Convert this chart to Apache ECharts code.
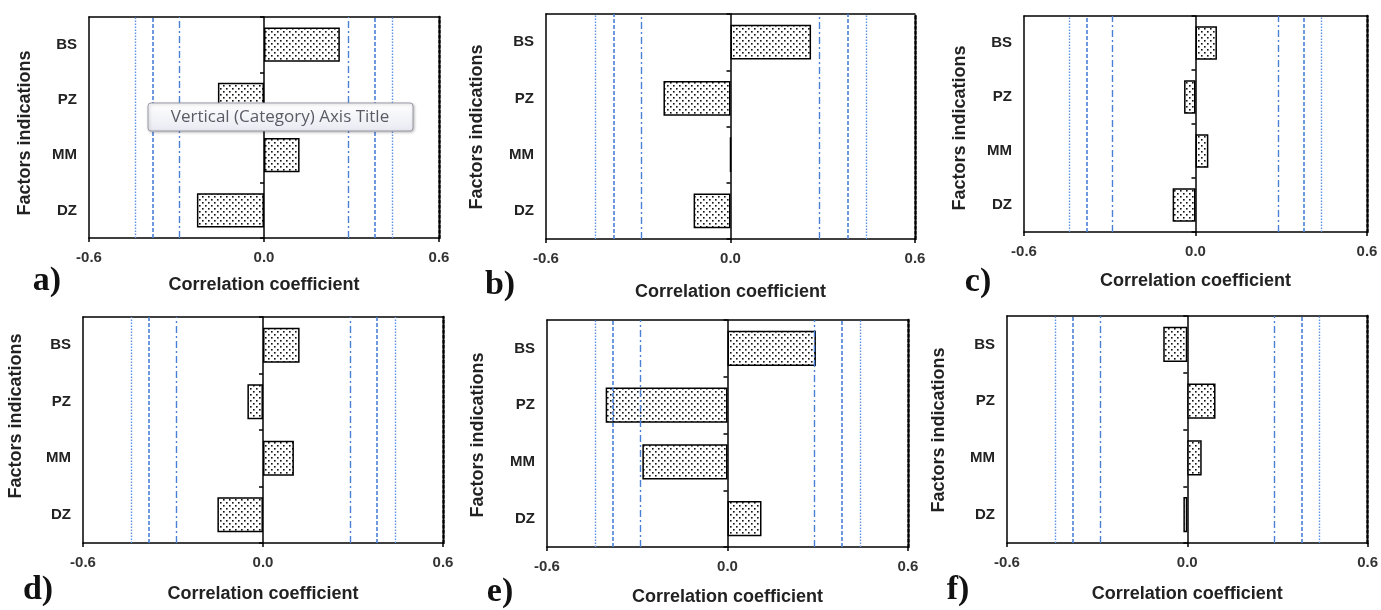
<!DOCTYPE html>
<html><head><meta charset="utf-8">
<script src="https://cdn.jsdelivr.net/npm/echarts@6/dist/echarts.min.js"></script>
<style>html,body{margin:0;padding:0;background:#fff}#c{width:1381px;height:610px}</style>
</head><body><div id="c"></div>
<script>
// ---- data ----
const categories = ['DZ', 'MM', 'PZ', 'BS'];
const panelLetters = ['a)', 'b)', 'c)', 'd)', 'e)', 'f)'];
const valuesA = [-0.23, 0.122, -0.158, 0.26];
const valuesB = [-0.12, 0.0, -0.218, 0.262];
const valuesC = [-0.08, 0.045, -0.04, 0.075];
const valuesD = [-0.152, 0.103, -0.052, 0.122];
const valuesE = [0.113, -0.283, -0.405, 0.294];
const valuesF = [-0.013, 0.048, 0.094, -0.08];
const xTickValues = [-0.6, 0.0, 0.6];
const criticalDotted = [-0.443, 0.443];
const criticalDashed = [-0.376, 0.376];
const criticalDashDot = [-0.294, 0.294];
const xTitle = 'Correlation coefficient';
const yTitle = 'Factors indications';
const hintText = 'Vertical (Category) Axis Title';

const allValues = [valuesA, valuesB, valuesC, valuesD, valuesE, valuesF];

// ---- layout (pixels) ----
const grids = [
  {left: 89, top: 17, width: 350, height: 221},
  {left: 546, top: 14, width: 369, height: 225},
  {left: 1024, top: 16, width: 343, height: 216},
  {left: 83, top: 317, width: 360, height: 226},
  {left: 547, top: 320, width: 361, height: 227},
  {left: 1007, top: 316, width: 361, height: 227}
];
const xNameGap = [38, 44, 40, 42, 41, 42];
const yTitlePos = [[25, 133], [477, 127], [960, 128], [16, 416], [478, 435], [939, 430]];
const letterPos = [[47, 281], [500, 285], [978, 282], [38, 590], [500, 592], [958, 590]];

const FONT = '"Liberation Sans", Arial, sans-serif';
const TXT = '#222';
const BLUE = '#4a80d6';
const BLUE_LIGHT = '#5f93e0';

function makePattern() {
  const c = document.createElement('canvas');
  c.width = 6; c.height = 6;
  const g = c.getContext('2d');
  g.fillStyle = '#fff'; g.fillRect(0, 0, 6, 6);
  g.fillStyle = '#111';
  g.fillRect(1, 1, 1.6, 1.6);
  g.fillRect(4, 4, 1.6, 1.6);
  return c;
}
const pattern = makePattern();

const xMin = xTickValues[0], xMax = xTickValues[xTickValues.length - 1];
const xInterval = xTickValues[1] - xTickValues[0];

const option = {
  backgroundColor: '#fff',
  animation: false,
  grid: [], xAxis: [], yAxis: [], series: [], graphic: []
};

grids.forEach((g, i) => {
  option.grid.push({left: g.left, top: g.top, width: g.width, height: g.height, containLabel: false});
  option.xAxis.push({
    gridIndex: i, type: 'value', position: 'bottom', min: xMin, max: xMax, interval: xInterval,
    axisLine: {show: true, onZero: false, lineStyle: {color: '#000', width: 1.5}},
    axisTick: {show: true, length: 4, lineStyle: {color: '#000', width: 1.5}},
    axisLabel: {show: true, showMinLabel: true, showMaxLabel: true, margin: 12,
      fontFamily: FONT, fontWeight: 'bold', fontSize: 15, color: '#333',
      formatter: v => v.toFixed(1)},
    splitLine: {show: false},
    name: xTitle, nameLocation: 'middle', nameGap: xNameGap[i],
    nameTextStyle: {fontFamily: FONT, fontWeight: 'bold', fontSize: 18, color: TXT}
  });
  option.xAxis.push({
    gridIndex: i, type: 'value', position: 'top', min: xMin, max: xMax, interval: xInterval,
    axisLine: {show: true, onZero: false, lineStyle: {color: '#000', width: 1.5}},
    axisTick: {show: false}, axisLabel: {show: false}, splitLine: {show: false}
  });
  option.yAxis.push({
    gridIndex: i, type: 'category', data: categories, position: 'left',
    axisLine: {show: true, onZero: false, lineStyle: {color: '#000', width: 1.5}},
    axisTick: {show: false},
    axisLabel: {show: true, margin: 12, fontFamily: FONT, fontWeight: 'bold', fontSize: 15, color: TXT},
    splitLine: {show: false}
  });
  option.yAxis.push({
    gridIndex: i, type: 'category', data: categories, position: 'left',
    axisLine: {show: true, onZero: true, onZeroAxisIndex: 2 * i, lineStyle: {color: '#000', width: 1.5}},
    axisTick: {show: true, length: 4, lineStyle: {color: '#000', width: 1.5}},
    axisLabel: {show: false}, splitLine: {show: false}
  });
  option.yAxis.push({
    gridIndex: i, type: 'category', data: categories, position: 'right',
    axisLine: {show: true, onZero: false, lineStyle: {color: '#000', width: 2.5, type: [3, 2]}},
    axisTick: {show: false}, axisLabel: {show: false}, splitLine: {show: false}
  });

  const lines = [];
  criticalDotted.forEach(v => lines.push({xAxis: v, lineStyle: {color: BLUE_LIGHT, width: 1.4, type: [1.5, 1.5]}}));
  criticalDashed.forEach(v => lines.push({xAxis: v, lineStyle: {color: BLUE, width: 1.6, type: [4, 2]}}));
  criticalDashDot.forEach(v => lines.push({xAxis: v, lineStyle: {color: BLUE, width: 1.4, type: [7, 3, 2, 3]}}));

  option.series.push({
    type: 'bar', xAxisIndex: 2 * i, yAxisIndex: 3 * i,
    data: allValues[i],
    barCategoryGap: '38%',
    itemStyle: {color: {image: pattern, repeat: 'repeat'}, borderColor: '#000', borderWidth: 1.5},
    silent: true,
    markLine: {silent: true, symbol: 'none', label: {show: false}, data: lines}
  });

  option.graphic.push({
    type: 'text', x: yTitlePos[i][0], y: yTitlePos[i][1], rotation: Math.PI / 2,
    style: {text: yTitle, fontFamily: FONT, fontWeight: 'bold', fontSize: 18, fill: TXT,
      textAlign: 'center', textVerticalAlign: 'middle'}
  });
  option.graphic.push({
    type: 'text', x: letterPos[i][0], y: letterPos[i][1],
    style: {text: panelLetters[i], fontFamily: '"Liberation Serif", "Times New Roman", serif',
      fontWeight: 'bold', fontSize: 34, fill: '#111', textAlign: 'center', textVerticalAlign: 'middle'}
  });
});

// Excel hover hint box in panel a
option.graphic.push({
  type: 'rect', z: 100, zlevel: 1, shape: {x: 148, y: 103, width: 265, height: 28, r: 3},
  style: {fill: {type: 'linear', x: 0, y: 0, x2: 0, y2: 1,
    colorStops: [{offset: 0, color: '#ffffff'}, {offset: 1, color: '#e9eaf2'}]},
    stroke: '#9a9aa6', lineWidth: 1, shadowBlur: 3, shadowColor: 'rgba(0,0,0,0.25)', shadowOffsetX: 1, shadowOffsetY: 1}
});
option.graphic.push({
  type: 'text', z: 101, zlevel: 1, x: 280, y: 117,
  style: {text: hintText, fontFamily: '"Open Sans", "Noto Sans", sans-serif', fontSize: 17, fill: '#5b5b66',
    textAlign: 'center', textVerticalAlign: 'middle'}
});

const chart = echarts.init(document.getElementById('c'), null, {renderer: 'canvas'});
chart.setOption(option);
</script>
</body></html>
